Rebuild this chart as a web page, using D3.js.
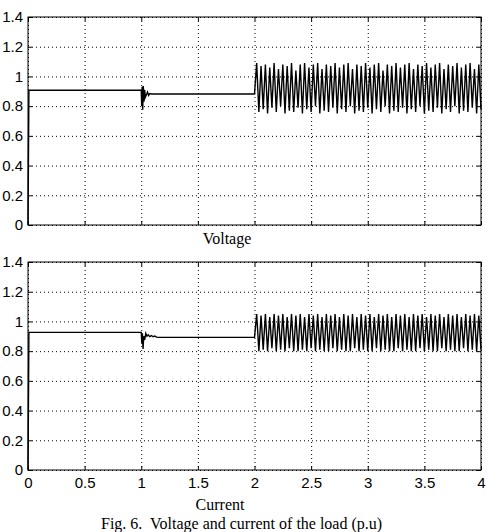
<!DOCTYPE html>
<html>
<head>
<meta charset="utf-8">
<script src="https://d3js.org/d3.v7.min.js"></script>
<style>
    body { margin: 0; background: #fff; }
    .tick-label { font-family: "Liberation Sans", Arial, sans-serif; font-size: 15px; fill: #000; }
    .serif { font-family: "Liberation Serif", "Times New Roman", serif; font-size: 16px; fill: #000; }
</style>
</head>
<body>
<div id="chart"></div>
<script>
// axis ticks
const xTicks = [0, 0.5, 1, 1.5, 2, 2.5, 3, 3.5, 4];
const yTicks = [0, 0.2, 0.4, 0.6, 0.8, 1, 1.2, 1.4];

// voltage: start-up and disturbance at t=1 (time, p.u.)
const voltageTimes = [0, 0.008, 1.000, 1.004, 1.008, 1.013, 1.018, 1.024, 1.030, 1.036, 1.045, 1.055, 1.065, 1.075, 1.090];
const voltageValues = [0, 0.907, 0.907, 0.80, 0.93, 0.775, 0.935, 0.83, 0.91, 0.86, 0.875, 0.895, 0.873, 0.885, 0.882];

// current: start-up and disturbance at t=1
const currentTimes = [0, 0.008, 1.000, 1.005, 1.010, 1.016, 1.022, 1.030, 1.040, 1.050, 1.062, 1.075, 1.090, 1.105, 1.120, 1.135, 1.150];
const currentValues = [0, 0.926, 0.926, 0.85, 0.92, 0.815, 0.90, 0.875, 0.92, 0.90, 0.91, 0.898, 0.905, 0.897, 0.902, 0.894, 0.893];

// oscillation after t=2, samples every half period (peak / trough)
const oscStart = 2;
const oscStep = 0.01923;
const voltageOsc = [0.882,
    1.09, 0.76, 1.07, 0.78, 1.08, 0.75, 1.06, 0.79, 1.09, 0.76, 1.05, 0.80, 1.08, 0.75, 1.07, 0.77, 1.09, 0.76, 1.04, 0.79,
    1.08, 0.75, 1.09, 0.78, 1.06, 0.76, 1.08, 0.80, 1.09, 0.75, 1.05, 0.77, 1.08, 0.76, 1.07, 0.79, 1.09, 0.75, 1.06, 0.78,
    1.08, 0.76, 1.09, 0.80, 1.05, 0.75, 1.08, 0.77, 1.07, 0.76, 1.09, 0.79, 1.06, 0.75, 1.08, 0.78, 1.09, 0.76, 1.04, 0.80,
    1.08, 0.75, 1.07, 0.77, 1.09, 0.76, 1.06, 0.79, 1.08, 0.75, 1.09, 0.78, 1.05, 0.76, 1.08, 0.80, 1.07, 0.75, 1.09, 0.77,
    1.06, 0.76, 1.08, 0.79, 1.09, 0.75, 1.05, 0.78, 1.08, 0.76, 1.07, 0.80, 1.09, 0.75, 1.06, 0.77, 1.08, 0.76, 1.09, 0.79,
    1.05, 0.75, 1.08, 0.78];
const currentOsc = [0.893,
    1.05, 0.80, 1.04, 0.81, 1.05, 0.80, 1.03, 0.82, 1.05, 0.80, 1.04, 0.81, 1.05, 0.80, 1.03, 0.82, 1.05, 0.80, 1.04, 0.80,
    1.05, 0.81, 1.03, 0.80, 1.05, 0.82, 1.04, 0.80, 1.05, 0.81, 1.03, 0.80, 1.05, 0.80, 1.04, 0.82, 1.05, 0.80, 1.03, 0.81,
    1.05, 0.80, 1.04, 0.80, 1.05, 0.82, 1.03, 0.80, 1.05, 0.81, 1.04, 0.80, 1.05, 0.80, 1.03, 0.82, 1.05, 0.80, 1.04, 0.81,
    1.05, 0.80, 1.03, 0.80, 1.05, 0.82, 1.04, 0.80, 1.05, 0.81, 1.03, 0.80, 1.05, 0.80, 1.04, 0.82, 1.05, 0.80, 1.03, 0.81,
    1.05, 0.80, 1.04, 0.80, 1.05, 0.82, 1.03, 0.80, 1.05, 0.81, 1.04, 0.80, 1.05, 0.80, 1.03, 0.82, 1.05, 0.80, 1.04, 0.81,
    1.05, 0.80, 1.04, 0.81];

class ScopeVis {
    constructor(_svg, _top, _times, _values, _osc, _showXLabels) {
        this.svg = _svg;
        this.top = _top;
        this.times = _times;
        this.values = _values;
        this.osc = _osc;
        this.showXLabels = _showXLabels;

        this.initVis();
    }

    initVis() {
        let vis = this;

        vis.left = 28;
        vis.width = 453;
        vis.height = 208;

        vis.g = vis.svg.append("g")
            .attr("transform", `translate(${vis.left},${vis.top})`);

        vis.x = d3.scaleLinear().domain([0, 4]).range([0, vis.width]);
        vis.y = d3.scaleLinear().domain([0, 1.4]).range([vis.height, 0]);

        const fmt = d => String(+d.toFixed(1));

        // dotted grid
        vis.g.append("g")
            .attr("class", "grid")
            .call(d3.axisBottom(vis.x).tickValues(xTicks).tickSize(vis.height).tickFormat(""))
            .call(g => g.select(".domain").remove())
            .selectAll("line")
            .attr("stroke", "#000")
            .attr("stroke-dasharray", "1,3");

        vis.g.append("g")
            .attr("class", "grid")
            .call(d3.axisRight(vis.y).tickValues(yTicks).tickSize(vis.width).tickFormat(""))
            .call(g => g.select(".domain").remove())
            .selectAll("line")
            .attr("stroke", "#000")
            .attr("stroke-dasharray", "1,3");

        // inward ticks on all sides
        vis.g.append("g")
            .call(d3.axisLeft(vis.y).tickValues(yTicks).tickSizeInner(-4).tickSizeOuter(0).tickPadding(5).tickFormat(fmt))
            .call(g => g.select(".domain").remove())
            .call(g => g.selectAll("text").attr("class", "tick-label").attr("font-size", null).attr("font-family", null));

        vis.g.append("g")
            .attr("transform", `translate(${vis.width},0)`)
            .call(d3.axisRight(vis.y).tickValues(yTicks).tickSizeInner(-4).tickSizeOuter(0).tickFormat(""))
            .call(g => g.select(".domain").remove());

        vis.g.append("g")
            .call(d3.axisTop(vis.x).tickValues(xTicks).tickSizeInner(-4).tickSizeOuter(0).tickFormat(""))
            .call(g => g.select(".domain").remove());

        vis.g.append("g")
            .attr("transform", `translate(0,${vis.height})`)
            .call(d3.axisBottom(vis.x).tickValues(xTicks).tickSizeInner(-4).tickSizeOuter(0).tickPadding(7)
                .tickFormat(vis.showXLabels ? fmt : ""))
            .call(g => g.select(".domain").remove())
            .call(g => g.selectAll("text").attr("class", "tick-label").attr("font-size", null).attr("font-family", null));

        vis.g.selectAll(".tick line").filter(function () { return this.getAttribute("stroke-dasharray") === null; })
            .attr("stroke", "#000");

        // frame
        vis.g.append("rect")
            .attr("width", vis.width)
            .attr("height", vis.height)
            .attr("fill", "none")
            .attr("stroke", "#000")
            .attr("stroke-width", 1);

        vis.wrangleData();
    }

    wrangleData() {
        let vis = this;
        vis.displayData = vis.times.map((t, i) => ({ t: t, v: vis.values[i] }))
            .concat(vis.osc.map((v, i) => ({ t: oscStart + i * oscStep, v: v })));
        vis.updateVis();
    }

    updateVis() {
        let vis = this;

        const line = d3.line()
            .x(d => vis.x(d.t))
            .y(d => vis.y(d.v));

        vis.g.append("path")
            .datum(vis.displayData)
            .attr("d", line)
            .attr("fill", "none")
            .attr("stroke", "#000")
            .attr("stroke-width", 1.4);
    }
}

const svg = d3.select("#chart")
    .append("svg")
    .attr("width", 490)
    .attr("height", 532);

new ScopeVis(svg, 17, voltageTimes, voltageValues, voltageOsc, false);
new ScopeVis(svg, 262, currentTimes, currentValues, currentOsc, true);

svg.append("text").attr("class", "serif")
    .attr("x", 227).attr("y", 244)
    .attr("text-anchor", "middle")
    .text("Voltage");

svg.append("text").attr("class", "serif")
    .attr("x", 220).attr("y", 510)
    .attr("text-anchor", "middle")
    .text("Current");

svg.append("text").attr("class", "serif")
    .attr("x", 101).attr("y", 529)
    .attr("xml:space", "preserve")
    .text("Fig. 6.  Voltage and current of the load (p.u)");
</script>
</body>
</html>
